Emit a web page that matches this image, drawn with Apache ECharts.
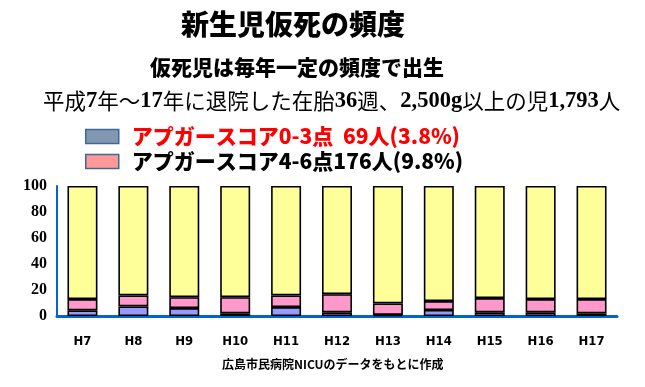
<!DOCTYPE html>
<html><head><meta charset="utf-8">
<script src="https://cdn.jsdelivr.net/npm/echarts@6/dist/echarts.min.js"></script>
<style>html,body{margin:0;padding:0;background:#fff}#c{width:645px;height:387px}</style>
</head><body><div id="c"></div>
<script>
const categories = ['H7','H8','H9','H10','H11','H12','H13','H14','H15','H16','H17'];
const score03 = [4.4, 7.4, 6.1, 2.0, 6.9, 2.8, 0.8, 4.6, 2.8, 2.8, 2.0];
const score46 = [8.6, 8.4, 8.4, 12.5, 8.9, 14.0, 8.9, 6.9, 11.0, 10.2, 11.0];
const others = categories.map((_, i) => +(100 - score03[i] - score46[i]).toFixed(1));
const yTicks = [0, 20, 40, 60, 80, 100];
const legend1 = 'アプガースコア0-3点  69人(3.8%)';
const legend2 = 'アプガースコア4-6点176人(9.8%)';
const title = '新生児仮死の頻度';
const subtitle = '仮死児は毎年一定の頻度で出生';
const noteParts = [['平成', 'n'], ['7', 'b'], ['年～', 'n'], ['17', 'b'], ['年に退院した在胎', 'n'], ['36', 'b'], ['週、', 'n'], ['2,500g', 'b'], ['以上の児', 'n'], ['1,793', 'b'], ['人', 'n']];
const source = '広島市民病院NICUのデータをもとに作成';

const jp = '"Noto Sans CJK JP", sans-serif';
const serif = '"Liberation Serif", "DejaVu Serif", "Noto Sans CJK JP", serif';
const chart = echarts.init(document.getElementById('c'));
const border = {borderColor: '#000', borderWidth: 1.6};
const noteText = noteParts.map(p => '{' + p[1] + '|' + p[0] + '}').join('');
chart.setOption({
  animation: false,
  textStyle: {fontFamily: jp},
  grid: {left: 57, right: 28, top: 186, bottom: 71},
  graphic: [
    {type: 'text', left: 181, top: 10, style: {text: title, font: '900 28px ' + jp, fill: '#000'}},
    {type: 'text', left: 150, top: 57, style: {text: subtitle, font: '900 21px ' + jp, fill: '#000'}},
    {type: 'text', left: 43, top: 90, style: {text: noteText, fill: '#000',
      rich: {
        n: {fontSize: 21.5, fontFamily: jp, fontWeight: 'normal', fill: '#000', color: '#000'},
        b: {fontSize: 22.5, fontFamily: serif, fontWeight: 'bold', fill: '#000', color: '#000'}
      }}},
    {type: 'text', left: 222, top: 358, style: {text: source, font: 'bold 12px ' + jp, fill: '#000'}}
  ],
  legend: {
    orient: 'vertical', left: 80, top: 121, itemWidth: 33, itemHeight: 14, itemGap: 4,
    icon: 'rect',
    data: [
      {name: legend1, itemStyle: {color: '#8497B0', borderColor: '#3B6A98', borderWidth: 1.5},
       textStyle: {color: '#FF0000', fontSize: 21, fontWeight: 900, fontFamily: jp, padding: [0, 0, 0, 8]}},
      {name: legend2, itemStyle: {color: '#FF9999', borderColor: '#3B6A98', borderWidth: 1.5},
       textStyle: {color: '#000', fontSize: 21, fontWeight: 900, fontFamily: jp, padding: [0, 0, 0, 8]}}
    ]
  },
  xAxis: {
    type: 'category', data: categories,
    axisLine: {lineStyle: {color: '#0066CC', width: 3}},
    axisTick: {show: false},
    axisLabel: {margin: 19, fontSize: 13, fontWeight: 'bold', color: '#000', fontFamily: '"DejaVu Sans Condensed", "DejaVu Sans", sans-serif'}
  },
  yAxis: {
    type: 'value', min: 0, max: 100, interval: 20,
    axisLine: {show: true, lineStyle: {color: '#0066CC', width: 2}},
    axisTick: {show: false},
    splitLine: {show: false},
    axisLabel: {margin: 10, fontSize: 16, fontWeight: 'bold', color: '#000', fontFamily: serif,
      formatter: v => yTicks.includes(v) ? String(v) : ''}
  },
  series: [
    {name: legend1, type: 'bar', stack: 's', data: score03, barWidth: 30, itemStyle: Object.assign({color: '#9999FF'}, border)},
    {name: legend2, type: 'bar', stack: 's', data: score46, barWidth: 30, itemStyle: Object.assign({color: '#FF99CC'}, border)},
    {name: 'その他', type: 'bar', stack: 's', data: others, barWidth: 30, itemStyle: Object.assign({color: '#FFFF99'}, border)}
  ]
});
</script></body></html>
